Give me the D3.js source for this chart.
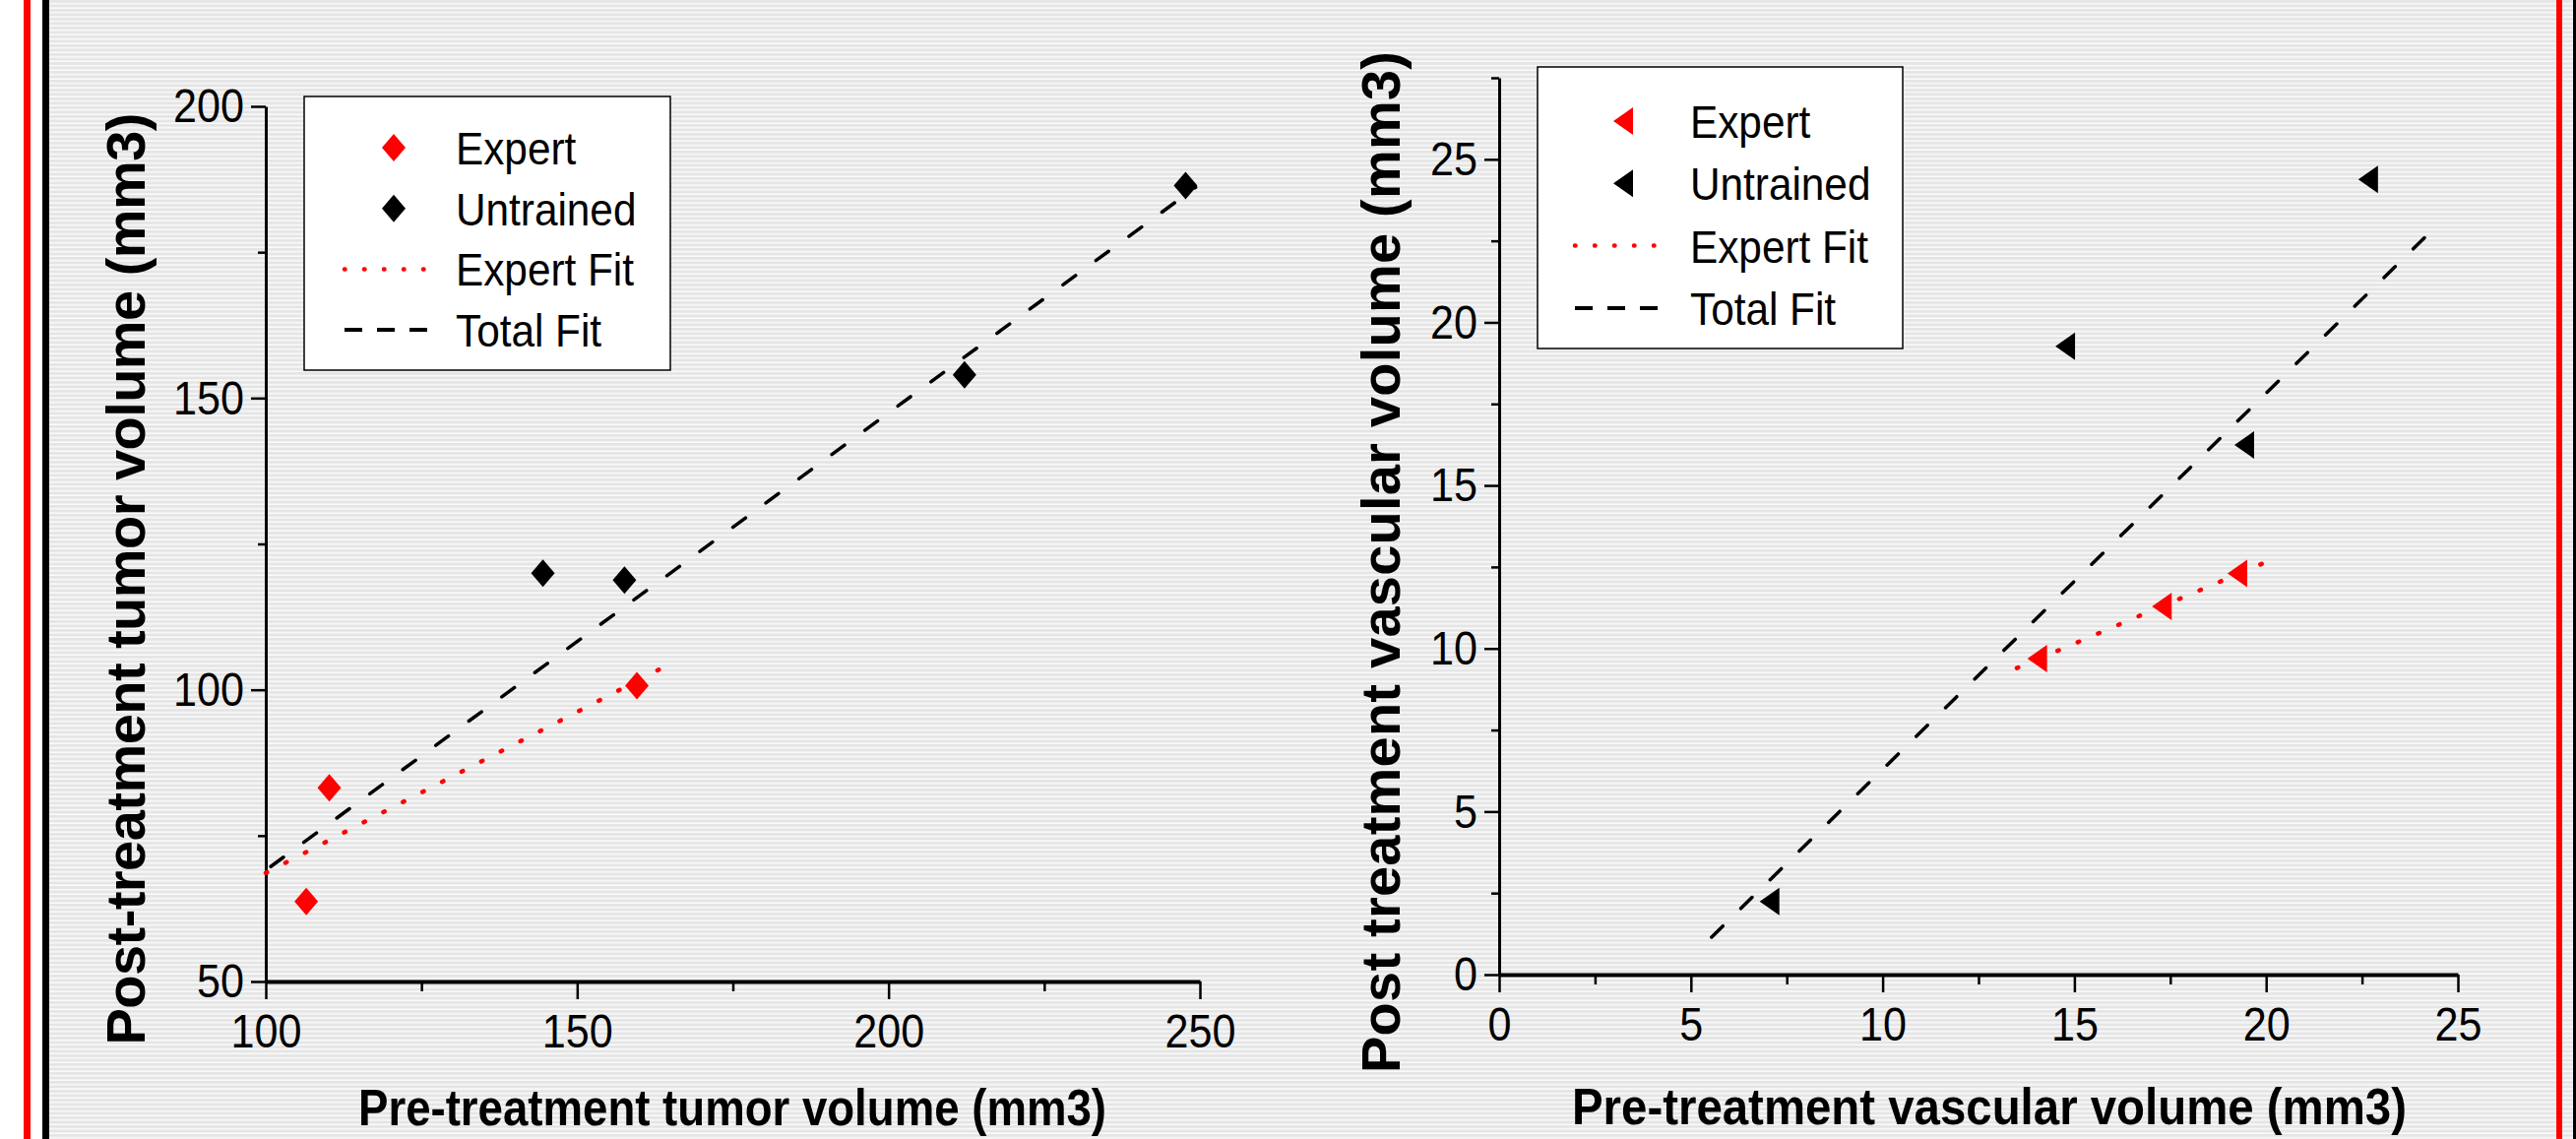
<!DOCTYPE html>
<html lang="en">
<head>
<meta charset="UTF-8">
<title>Tumor and vascular volume, pre vs post treatment</title>
<script src="https://d3js.org/d3.v7.min.js"></script>
<style>
    body { margin: 0; background: #fff; }
    svg { display: block; }
    text { font-family: "Liberation Sans", Arial, sans-serif; fill: #000; }
</style>
</head>
<body>
<script>
// ---- left panel: tumor volume ----
const tumorExpert = [[106.5, 63.7], [110.2, 83.2], [159.6, 100.7]];
const tumorUntrained = [[144.5, 120.0], [157.6, 118.8], [212.2, 154.0], [247.7, 186.4]];
const tumorExpertFit = [[100.0, 68.6], [165.2, 104.6]];
const tumorTotalFit = [[100.8, 69.7], [249.3, 186.1]];
const tumorXTicks = [100, 150, 200, 250];
const tumorXMinor = [125, 175, 225];
const tumorYTicks = [50, 100, 150, 200];
const tumorYMinor = [75, 125, 175];

// ---- right panel: vascular volume ----
const vascExpert = [[14.03, 9.69], [17.28, 11.29], [19.25, 12.30]];
const vascUntrained = [[7.05, 2.24], [14.76, 19.27], [19.43, 16.24], [22.66, 24.38]];
const vascExpertFit = [[13.5, 9.4], [19.94, 12.62]];
const vascTotalFit = [[5.54, 1.15], [24.31, 22.8]];
const vascXTicks = [0, 5, 10, 15, 20, 25];
const vascXMinor = [2.5, 7.5, 12.5, 17.5, 22.5];
const vascYTicks = [0, 5, 10, 15, 20, 25];
const vascYMinor = [2.5, 7.5, 12.5, 17.5, 22.5, 27.5];

const legendLabels = ["Expert", "Untrained", "Expert Fit", "Total Fit"];

const W = 2617, H = 1157;
const RED = "#ff0000";

const svg = d3.select("body").append("svg")
    .attr("width", W)
    .attr("height", H);

// striped grey background like the scanned slide
const defs = svg.append("defs");
const pat = defs.append("pattern")
    .attr("id", "stripes")
    .attr("patternUnits", "userSpaceOnUse")
    .attr("width", 20)
    .attr("height", 4.5);
pat.append("rect").attr("width", 20).attr("height", 4.5).attr("fill", "#e5e5e5");
pat.append("rect").attr("y", 3).attr("width", 20).attr("height", 1.5).attr("fill", "#fafafa");

svg.append("rect").attr("width", W).attr("height", H).attr("fill", "#fff");
svg.append("rect").attr("x", 50).attr("width", W - 50).attr("height", H).attr("fill", "url(#stripes)");

// frame lines on the sides
svg.append("rect").attr("x", 24).attr("width", 7).attr("height", H).attr("fill", RED);
svg.append("rect").attr("x", 43).attr("width", 7).attr("height", H).attr("fill", "#000");
svg.append("rect").attr("x", 2597).attr("width", 6).attr("height", H).attr("fill", RED);
svg.append("rect").attr("x", 2614).attr("width", 3).attr("height", H).attr("fill", "#000");

function condense(sel, k) {
    sel.each(function () {
        const w = this.getComputedTextLength();
        d3.select(this).attr("textLength", w * k).attr("lengthAdjust", "spacingAndGlyphs");
    });
}

function diamondPath(cx, cy) {
    return `M${cx},${cy - 14}L${cx + 12},${cy}L${cx},${cy + 14}L${cx - 12},${cy}Z`;
}

function trianglePath(cx, cy) {
    return `M${cx - 10},${cy}L${cx + 10},${cy - 14}L${cx + 10},${cy + 14}Z`;
}

function drawPanel(p) {
    const x = d3.scaleLinear().domain(p.xDomain).range(p.xRange);
    const y = d3.scaleLinear().domain(p.yDomain).range(p.yRange);
    const g = svg.append("g");

    // y axis, major + minor ticks
    const yAx = g.append("g")
        .attr("transform", `translate(${p.xRange[0]},0)`)
        .call(d3.axisLeft(y).tickValues(p.yTicks).tickSize(15).tickSizeOuter(0).tickPadding(7).tickFormat(d3.format("d")));
    g.append("g")
        .attr("transform", `translate(${p.xRange[0]},0)`)
        .call(d3.axisLeft(y).tickValues(p.yMinor).tickSize(8).tickFormat(() => ""))
        .call(s => s.select(".domain").remove());

    // x axis
    const xAx = g.append("g")
        .attr("transform", `translate(0,${p.yRange[0]})`)
        .call(d3.axisBottom(x).tickValues(p.xTicks).tickSize(18).tickSizeOuter(0).tickPadding(14).tickFormat(d3.format("d")));
    g.append("g")
        .attr("transform", `translate(0,${p.yRange[0]})`)
        .call(d3.axisBottom(x).tickValues(p.xMinor).tickSize(10).tickFormat(() => ""))
        .call(s => s.select(".domain").remove());

    g.selectAll(".tick line").attr("stroke", "#000").attr("stroke-width", 2.5);
    yAx.select(".domain").attr("stroke", "#000").attr("stroke-width", 3);
    xAx.select(".domain").attr("stroke", "#000").attr("stroke-width", 4);
    g.selectAll(".tick text")
        .attr("font-family", "Liberation Sans, Arial, sans-serif")
        .attr("font-size", 49)
        .attr("fill", "#000");
    condense(g.selectAll(".tick text"), 0.88);

    // fit lines
    const line = d3.line().x(d => x(d[0])).y(d => y(d[1]));
    g.append("path").datum(p.totalFit)
        .attr("d", line)
        .attr("fill", "none")
        .attr("stroke", "#000")
        .attr("stroke-width", 3.5)
        .attr("stroke-linecap", "round")
        .attr("stroke-dasharray", "16 25.6");
    g.append("path").datum(p.expertFit)
        .attr("d", line)
        .attr("fill", "none")
        .attr("stroke", RED)
        .attr("stroke-width", 4.5)
        .attr("stroke-linecap", "round")
        .attr("stroke-dasharray", "1.5 20.9");

    // points
    g.selectAll(".pt-u").data(p.untrained).enter().append("path")
        .attr("d", d => p.shape(x(d[0]), y(d[1])))
        .attr("fill", "#000");
    g.selectAll(".pt-e").data(p.expert).enter().append("path")
        .attr("d", d => p.shape(x(d[0]), y(d[1])))
        .attr("fill", RED);

    // legend
    const L = p.legend;
    const lg = g.append("g");
    lg.append("rect")
        .attr("x", L.x).attr("y", L.y).attr("width", L.w).attr("height", L.h)
        .attr("fill", "#fff").attr("stroke", "#000").attr("stroke-width", 1.5);
    const rowY = i => L.y + L.first + i * L.step;
    lg.append("path").attr("d", p.shape(L.x + L.sym, rowY(0))).attr("fill", RED);
    lg.append("path").attr("d", p.shape(L.x + L.sym, rowY(1))).attr("fill", "#000");
    lg.append("line")
        .attr("x1", L.x + L.l1).attr("x2", L.x + L.l2)
        .attr("y1", rowY(2)).attr("y2", rowY(2))
        .attr("stroke", RED).attr("stroke-width", 4.5)
        .attr("stroke-linecap", "round").attr("stroke-dasharray", "0.5 19.5");
    lg.append("line")
        .attr("x1", L.x + L.l1).attr("x2", L.x + L.l2)
        .attr("y1", rowY(3)).attr("y2", rowY(3))
        .attr("stroke", "#000").attr("stroke-width", 4)
        .attr("stroke-dasharray", "18 15");
    const lt = lg.selectAll(".lt").data(legendLabels).enter().append("text")
        .attr("x", L.x + L.text)
        .attr("y", (d, i) => rowY(i) + 17)
        .attr("font-size", 47)
        .text(d => d);
    condense(lt, 0.9);

    // axis titles
    g.append("text")
        .attr("x", p.xTitle.cx).attr("y", p.xTitle.base)
        .attr("text-anchor", "middle")
        .attr("font-weight", "bold")
        .attr("font-size", 52)
        .attr("textLength", p.xTitle.len)
        .attr("lengthAdjust", "spacingAndGlyphs")
        .text(p.xTitle.text);
    g.append("text")
        .attr("transform", `translate(${p.yTitle.base},${p.yTitle.cy}) rotate(-90)`)
        .attr("text-anchor", "middle")
        .attr("font-weight", "bold")
        .attr("font-size", 56)
        .attr("textLength", p.yTitle.len)
        .attr("lengthAdjust", "spacing")
        .text(p.yTitle.text);
}

drawPanel({
    xDomain: [100, 250], xRange: [270, 1219],
    yDomain: [50, 200], yRange: [997, 108],
    xTicks: tumorXTicks, xMinor: tumorXMinor,
    yTicks: tumorYTicks, yMinor: tumorYMinor,
    expert: tumorExpert, untrained: tumorUntrained,
    expertFit: tumorExpertFit, totalFit: tumorTotalFit,
    shape: diamondPath,
    legend: { x: 309, y: 98, w: 372, h: 278, first: 52, step: 61.7, sym: 91, l1: 41, l2: 126, text: 154 },
    xTitle: { text: "Pre-treatment tumor volume (mm3)", cx: 744, base: 1143, len: 760 },
    yTitle: { text: "Post-treatment tumor volume (mm3)", cy: 588, base: 147, len: 947 }
});

drawPanel({
    xDomain: [0, 25], xRange: [1523, 2497],
    yDomain: [0, 27.5], yRange: [990, 79],
    xTicks: vascXTicks, xMinor: vascXMinor,
    yTicks: vascYTicks, yMinor: vascYMinor,
    expert: vascExpert, untrained: vascUntrained,
    expertFit: vascExpertFit, totalFit: vascTotalFit,
    shape: trianglePath,
    legend: { x: 1562, y: 68, w: 371, h: 286, first: 55, step: 63.3, sym: 87, l1: 38, l2: 125, text: 155 },
    xTitle: { text: "Pre-treatment vascular volume (mm3)", cx: 2021, base: 1142, len: 848 },
    yTitle: { text: "Post treatment vascular volume (mm3)", cy: 571, base: 1422, len: 1038 }
});
</script>
</body>
</html>
